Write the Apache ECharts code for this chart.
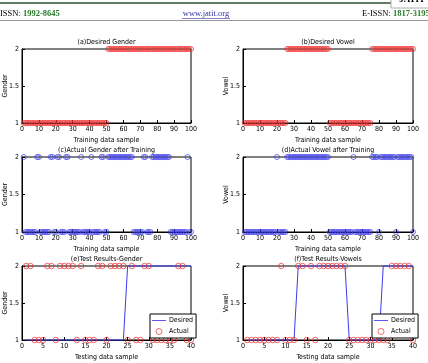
<!DOCTYPE html>
<html style="height: 100%">
<head>
    <meta charset="utf-8">
    <title>Gender / Vowel results</title>
</head>
<body style="height: 100%; margin: 0; background: #fff">
    <div id="container" style="width: 428px; height: 363px"></div>
    <script src="https://cdn.jsdelivr.net/npm/echarts@6/dist/echarts.min.js"></script>
    <script type="text/javascript">
        // training set, 100 samples
        var desiredGender = [
            1,1,1,1,1,1,1,1,1,1, 1,1,1,1,1,1,1,1,1,1, 1,1,1,1,1,1,1,1,1,1, 1,1,1,1,1,1,1,1,1,1, 1,1,1,1,1,1,1,1,1,1,
            2,2,2,2,2,2,2,2,2,2, 2,2,2,2,2,2,2,2,2,2, 2,2,2,2,2,2,2,2,2,2, 2,2,2,2,2,2,2,2,2,2, 2,2,2,2,2,2,2,2,2,2
        ];
        var desiredVowel = [
            1,1,1,1,1,1,1,1,1,1, 1,1,1,1,1,1,1,1,1,1, 1,1,1,1,1,
            2,2,2,2,2, 2,2,2,2,2,2,2,2,2,2, 2,2,2,2,2,2,2,2,2,2,
            1,1,1,1,1,1,1,1,1,1, 1,1,1,1,1,1,1,1,1,1, 1,1,1,1,1,
            2,2,2,2,2, 2,2,2,2,2,2,2,2,2,2, 2,2,2,2,2,2,2,2,2,2
        ];
        var actualGender = [
            2,1,1,1,1,1,1,1,2,2, 1,1,1,1,1,1,2,2,1,1, 2,2,1,1,1,2,2,1,1,1, 1,1,1,1,2,1,1,1,1,1, 2,1,1,1,1,1,2,2,1,1,
            2,2,2,2,2,2,2,2,2,2, 2,2,2,2,2,1,1,1,1,1, 1,2,2,1,1,1,2,2,2,2, 2,2,2,2,2,2,2,1,1,1, 1,1,1,1,1,1,1,2,1,1
        ];
        var actualVowel = [
            1,1,1,1,1,1,1,1,1,1, 1,1,1,1,1,1,1,1,1,2, 1,1,1,1,1,
            2,2,2,2,2, 2,2,2,2,2,2,2,2,2,2, 2,2,2,2,2,2,2,2,2,2,
            1,1,1,1,1,1,1,1,1,1, 1,1,1,1,2,1,1,1,1,1, 1,1,1,1,1,
            2,2,2,2,1, 2,2,2,2,2,2,2,2,2,1, 2,2,2,2,2,2,2,2,2,1
        ];

        // test set, 40 samples
        var testDesiredGender = [
            1,1,1,1,1,1,1,1,1,1, 1,1,1,1,1,1,1,1,1,1, 1,1,1,1,2,2,2,2,2,2, 2,2,2,2,2,2,2,2,2,2
        ];
        var testActualGender = [
            2,2,1,1,1,2,2,1,2,2, 2,2,1,2,1,1,1,2,2,1, 2,2,2,2,1,2,1,1,2,2, 1,1,1,1,1,1,2,2,1,1
        ];
        var testDesiredVowel = [
            1,1,1,1,1,1,1,1,1,1, 1,1,2,2,2,2,2,2,2,2, 2,2,2,2,1,1,1,1,1,1, 1,1,2,2,2,2,2,2,2,2
        ];
        var testActualVowel = [
            1,1,1,1,1,1,1,1,2,1, 1,1,2,2,1,2,1,2,2,2, 2,2,2,2,1,1,1,1,1,1, 1,1,1,1,2,2,2,2,2,1
        ];

        var yTicks = ['1', '1.5', '2'];

        var FONT = '"Liberation Sans Narrow", "DejaVu Sans Condensed", sans-serif';
        var RED = '#f03030';
        var BLUE = '#3c3cee';

        var panels = [
            { title: '(a)Desired Gender', ylab: 'Gender', xlab: 'Training data sample', left: 22, top: 49, w: 169, h: 74, max: 100, step: 10 },
            { title: '(b)Desired Vowel', ylab: 'Vowel', xlab: 'Training data sample', left: 243, top: 49, w: 170, h: 74, max: 100, step: 10 },
            { title: '(c)Actual Gender after Training', ylab: 'Gender', xlab: 'Training data sample', left: 22, top: 157, w: 169, h: 75, max: 100, step: 10 },
            { title: '(d)Actual Vowel after Training', ylab: 'Vowel', xlab: 'Training data sample', left: 243, top: 157, w: 170, h: 75, max: 100, step: 10 },
            { title: '(e)Test Results-Gender', ylab: 'Gender', xlab: 'Testing data sample', left: 22, top: 266, w: 169, h: 74, max: 40, step: 5 },
            { title: '(f)Test Results-Vowels', ylab: 'Vowel', xlab: 'Testing data sample', left: 243, top: 266, w: 170, h: 74, max: 40, step: 5 }
        ];

        function pairs(arr) {
            return arr.map(function (v, i) { return [i + 1, v]; });
        }

        var grids = [], xAxes = [], yAxes = [], series = [], graphics = [];

        panels.forEach(function (p, k) {
            grids.push({
                left: p.left, top: p.top, width: p.w, height: p.h, outerBoundsMode: 'none',
                show: true, borderColor: '#000', borderWidth: 1, backgroundColor: '#fff'
            });
            xAxes.push({
                gridIndex: k, type: 'value', min: 0, max: p.max, interval: p.step,
                name: p.xlab, nameLocation: 'middle', nameGap: 14, nameMoveOverlap: false,
                nameTextStyle: { fontSize: 7, color: '#000', fontFamily: FONT },
                axisLine: { lineStyle: { color: '#000', width: 1 } },
                axisTick: { inside: true, length: 3, lineStyle: { color: '#000' } },
                axisLabel: { fontSize: 7, color: '#000', margin: 3, fontFamily: FONT },
                splitLine: { show: false }
            });
            yAxes.push({
                gridIndex: k, type: 'value', min: 1, max: 2, interval: 0.5,
                name: p.ylab, nameLocation: 'middle', nameGap: 13.5, nameRotate: 90, nameMoveOverlap: false,
                nameTextStyle: { fontSize: 7, color: '#000', fontFamily: FONT },
                axisLine: { lineStyle: { color: '#000', width: 1 } },
                axisTick: { inside: true, length: 3, lineStyle: { color: '#000' } },
                axisLabel: {
                    fontSize: 7, color: '#000', margin: 3, fontFamily: FONT,
                    formatter: function (v) { return yTicks[Math.round((v - 1) * 2)]; }
                },
                splitLine: { show: false }
            });
            graphics.push({
                type: 'text', x: p.left + p.w / 2, y: p.top - 7,
                style: { text: p.title, fontSize: 7, fontFamily: FONT, fill: '#000', align: 'center', verticalAlign: 'middle' }
            });
        });

        // open circles like matlab 'o' markers
        function marks(name, k, arr, color, size) {
            return {
                name: name, type: 'scatter', xAxisIndex: k, yAxisIndex: k,
                data: pairs(arr), symbol: 'circle', symbolSize: size, clip: false,
                itemStyle: { color: 'rgba(255,255,255,0)', borderColor: color, borderWidth: 0.9 }, z: 3
            };
        }

        series.push(marks('a', 0, desiredGender, RED, 5));
        series.push(marks('b', 1, desiredVowel, RED, 5));
        series.push(marks('c', 2, actualGender, BLUE, 5));
        series.push(marks('d', 3, actualVowel, BLUE, 5));

        [[4, testDesiredGender, testActualGender], [5, testDesiredVowel, testActualVowel]].forEach(function (t) {
            series.push({
                name: 'Desired', type: 'line', xAxisIndex: t[0], yAxisIndex: t[0],
                data: pairs(t[1]), symbol: 'none', clip: false,
                lineStyle: { color: BLUE, width: 1 }, itemStyle: { color: BLUE }, z: 2
            });
            series.push(marks('Actual', t[0], t[2], RED, 5.5));
        });

        function legendAt(left) {
            return {
                data: [
                    { name: 'Desired', icon: 'path://M0,0L20,0L20,1.2L0,1.2Z' },
                    { name: 'Actual', icon: 'circle', itemStyle: { color: 'rgba(255,255,255,0)', borderColor: RED, borderWidth: 0.9 } }
                ],
                orient: 'vertical', left: left, top: 314,
                borderColor: '#000', borderWidth: 1, backgroundColor: '#fff',
                padding: [3, 3, 3, 2], itemGap: 4, itemWidth: 14, itemHeight: 6,
                textStyle: { fontSize: 7, color: '#000', fontFamily: FONT, padding: [0, 0, 0, -2] },
                selectedMode: false
            };
        }

        // page header of the journal
        var SERIF = '"Liberation Serif", "DejaVu Serif", serif';
        graphics.push(
            { type: 'line', shape: { x1: 0, y1: 3, x2: 428, y2: 3 }, style: { stroke: '#2f4f2f', lineWidth: 1.5 } },
            { type: 'rect', shape: { x: 391, y: -2, width: 40, height: 10 }, style: { fill: '#fff', stroke: '#aaa', lineWidth: 1 } },
            { type: 'text', x: 425, y: 4, style: { text: 'JATIT', fontSize: 9, fontWeight: 'bold', fontFamily: SERIF, fill: '#000', align: 'right', verticalAlign: 'bottom' } },
            {
                type: 'text', x: 0, y: 14,
                style: {
                    text: '{a|ISSN: }{b|1992-8645}', verticalAlign: 'middle',
                    rich: {
                        a: { fontSize: 8.5, fontFamily: SERIF, fill: '#000' },
                        b: { fontSize: 8.5, fontFamily: SERIF, fill: '#2a7a2a', fontWeight: 'bold' }
                    }
                }
            },
            { type: 'text', x: 206, y: 14, style: { text: 'www.jatit.org', fontSize: 8.5, fontFamily: SERIF, fill: '#3333aa', align: 'center', verticalAlign: 'middle' } },
            { type: 'line', shape: { x1: 182, y1: 18.5, x2: 230, y2: 18.5 }, style: { stroke: '#3333aa', lineWidth: 0.6 } },
            {
                type: 'text', x: 362, y: 14,
                style: {
                    text: '{a|E-ISSN: }{b|1817-3195}', verticalAlign: 'middle',
                    rich: {
                        a: { fontSize: 8.5, fontFamily: SERIF, fill: '#000' },
                        b: { fontSize: 8.5, fontFamily: SERIF, fill: '#2a7a2a', fontWeight: 'bold' }
                    }
                }
            },
            { type: 'line', shape: { x1: 0, y1: 20.5, x2: 428, y2: 20.5 }, style: { stroke: '#999', lineWidth: 1 } }
        );

        var myChart = echarts.init(document.getElementById('container'));
        myChart.setOption({
            animation: false,
            backgroundColor: '#fff',
            grid: grids,
            xAxis: xAxes,
            yAxis: yAxes,
            legend: [legendAt(150), legendAt(372)],
            series: series,
            graphic: graphics
        });
    </script>
</body>
</html>
